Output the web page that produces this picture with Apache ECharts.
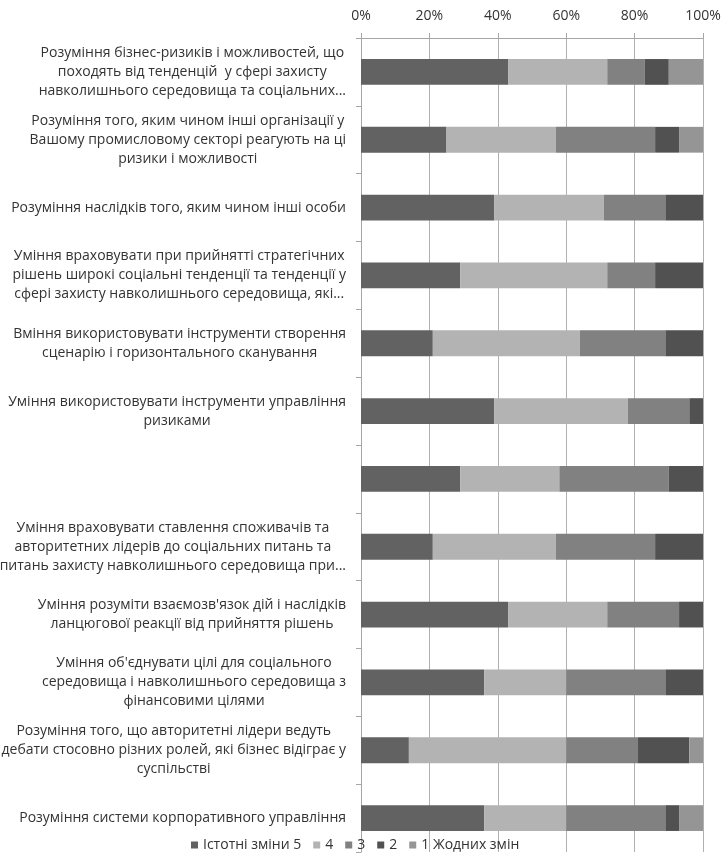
<!DOCTYPE html>
<html>
<head>
<meta charset="utf-8">
<script src="https://cdn.jsdelivr.net/npm/echarts@6/dist/echarts.min.js"></script>
<style>
  html, body { margin: 0; padding: 0; background: #fff; }
  #chart { width: 724px; height: 859px; }
</style>
</head>
<body>
<div id="chart"></div>
<script>
const categories = [
  "Розуміння бізнес-ризиків і можливостей, що\nпоходять від тенденцій  у сфері захисту\nнавколишнього середовища та соціальних...",
  "Розуміння того, яким чином інші організації у\nВашому промисловому секторі реагують на ці\nризики і можливості",
  "Розуміння наслідків того, яким чином інші особи",
  "Уміння враховувати при прийнятті стратегічних\nрішень широкі соціальні тенденції та тенденції у\nсфері захисту навколишнього середовища, які...",
  "Вміння використовувати інструменти створення\nсценарію і горизонтального сканування",
  "Уміння використовувати інструменти управління\nризиками",
  "",
  "Уміння враховувати ставлення споживачів та\nавторитетних лідерів до соціальних питань та\nпитань захисту навколишнього середовища при...",
  "Уміння розуміти взаємозв'язок дій і наслідків\nланцюгової реакції від прийняття рішень",
  "Уміння об'єднувати цілі для соціального\nсередовища і навколишнього середовища з\nфінансовими цілями",
  "Розуміння того, що авторитетні лідери ведуть\nдебати стосовно різних ролей, які бізнес відіграє у\nсуспільстві",
  "Розуміння системи корпоративного управління"
];

const seriesNames = ["Істотні зміни 5", "4", "3", "2", "1 Жодних змін"];

const values5 = [43, 25, 39, 29, 21, 39, 29, 21, 43, 36, 14, 36];
const values4 = [29, 32, 32, 43, 43, 39, 29, 36, 29, 24, 46, 24];
const values3 = [11, 29, 18, 14, 25, 18, 32, 29, 21, 29, 21, 29];
const values2 = [7, 7, 11, 14, 11, 4, 10, 14, 7, 11, 15, 4];
const values1 = [10, 7, 0, 0, 0, 0, 0, 0, 0, 0, 4, 7];

const xTicks = [0, 20, 40, 60, 80, 100];

const colors = ["#626262", "#b3b3b3", "#818181", "#515151", "#959595"];
const allValues = [values5, values4, values3, values2, values1];

const chart = echarts.init(document.getElementById('chart'), null, { renderer: 'canvas' });

const fontFamily = '"Open Sans", "Noto Sans", sans-serif';

chart.setOption({
  animation: false,
  color: colors,
  textStyle: { fontFamily: fontFamily },
  grid: { left: 361, right: 21, top: 38, bottom: 7, containLabel: false, outerBoundsMode: 'none' },
  legend: {
    bottom: 2,
    left: 186,
    itemWidth: 7,
    itemHeight: 7,
    itemGap: 12,
    icon: 'rect',
    textStyle: { fontSize: 14, color: '#333', fontFamily: fontFamily, padding: [0, 0, 0, 0] },
    data: seriesNames
  },
  xAxis: {
    type: 'value',
    position: 'top',
    min: xTicks[0],
    max: xTicks[xTicks.length - 1],
    interval: 20,
    axisLine: { show: true, lineStyle: { color: '#a6a6a6', width: 1 } },
    axisTick: { show: true, length: 5, lineStyle: { color: '#a6a6a6' } },
    splitLine: { show: true, lineStyle: { color: '#b0b0b0', width: 1 } },
    axisLabel: {
      formatter: '{value}%',
      fontSize: 14,
      color: '#333',
      margin: 15,
      fontFamily: fontFamily
    }
  },
  yAxis: {
    type: 'category',
    inverse: true,
    data: categories,
    axisLine: { show: true, lineStyle: { color: '#a6a6a6', width: 1 } },
    axisTick: { show: true, length: 5, interval: 0, lineStyle: { color: '#a6a6a6' } },
    axisLabel: {
      interval: 0,
      margin: 15,
      align: 'right',
      formatter: function (v) {
        if (!v) return '';
        return v.split('\n').map(function (l) { return '{c|' + l + '}'; }).join('\n');
      },
      rich: {
        c: { align: 'center', fontSize: 14, lineHeight: 19, color: '#333', fontFamily: fontFamily }
      }
    }
  },
  series: seriesNames.map(function (name, i) {
    return {
      name: name,
      type: 'bar',
      stack: 'total',
      barWidth: '38%',
      data: allValues[i],
      itemStyle: { color: colors[i] }
    };
  })
});
</script>
</body>
</html>
